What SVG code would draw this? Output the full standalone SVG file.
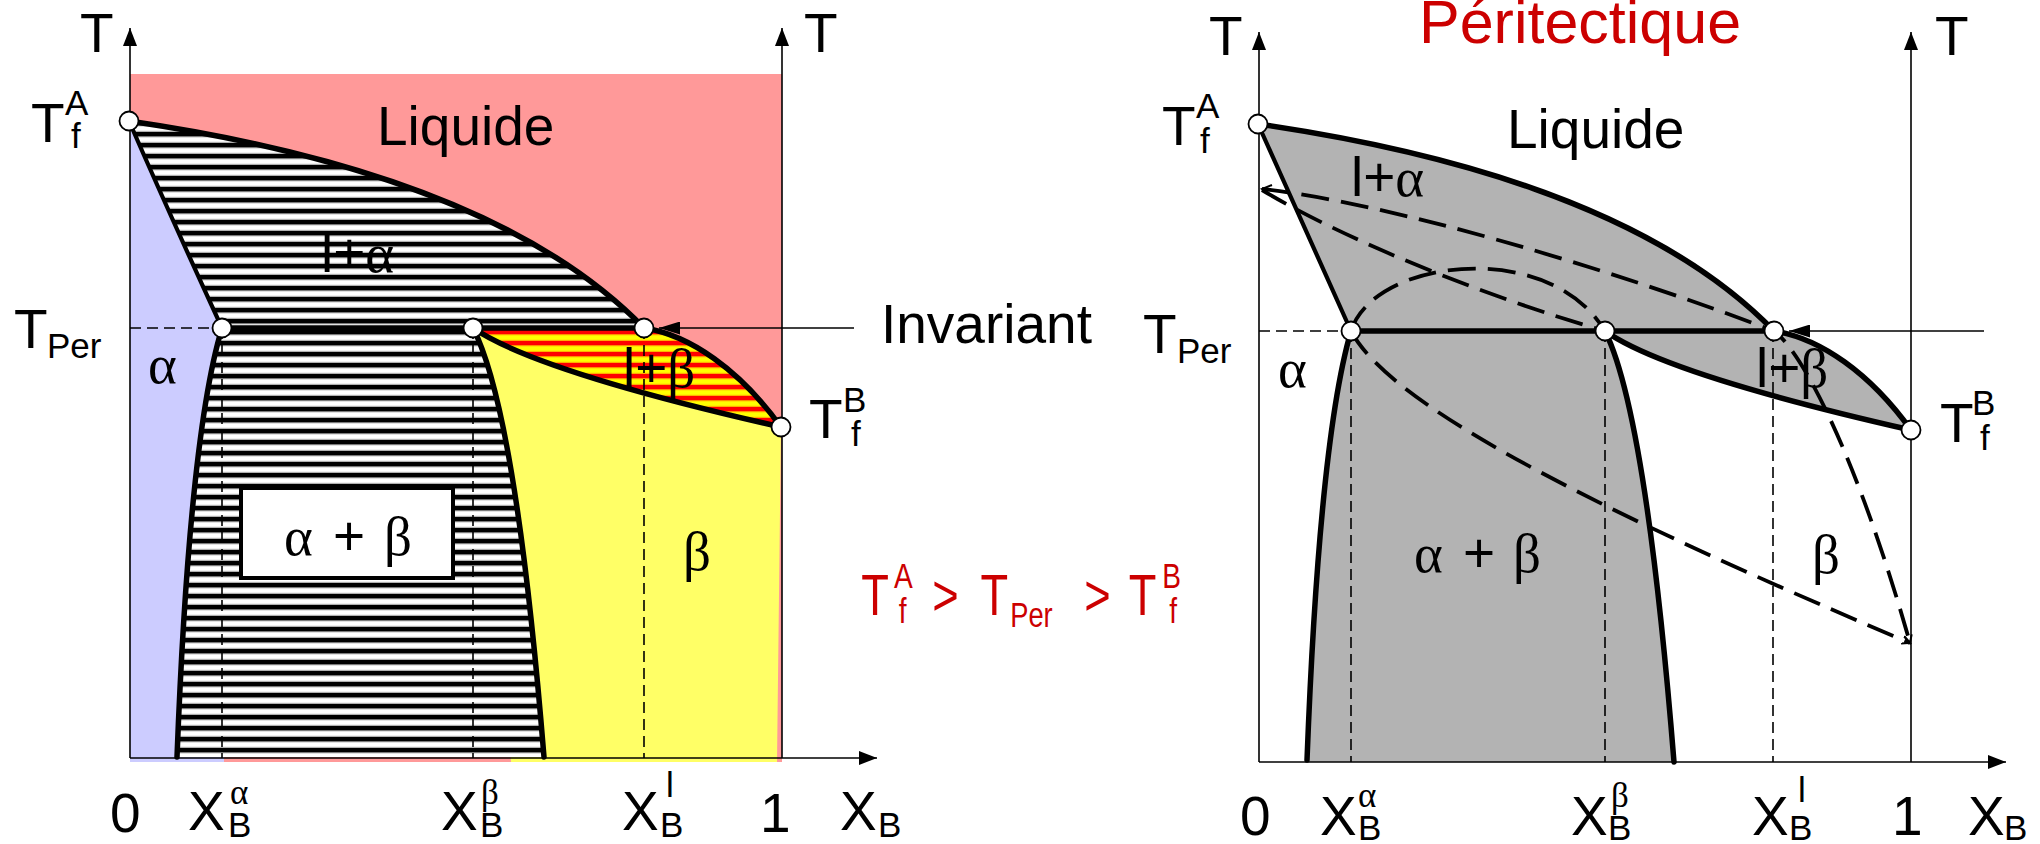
<svg xmlns="http://www.w3.org/2000/svg" width="2040" height="844" viewBox="0 0 2040 844">
<defs>
<style>
.t{font-family:"Liberation Sans",Arial,sans-serif;font-size:55px;fill:#000}
.s{font-family:"Liberation Sans",Arial,sans-serif;font-size:35px;fill:#000}
.g{font-family:"Liberation Serif","Times New Roman",serif;font-size:55px;fill:#000}
.gs{font-family:"Liberation Serif","Times New Roman",serif;font-size:35px;fill:#000}
.red{fill:#CC0000}
.axis{stroke:#000;stroke-width:1.6;fill:none}
.thick{stroke:#000;stroke-width:5.5;fill:none;stroke-linejoin:round;stroke-linecap:round}
.med{stroke:#000;stroke-width:4.2;fill:none;stroke-linecap:round}
.vd{stroke:#000;stroke-width:1.6;stroke-dasharray:11 6;fill:none}
.dc{stroke:#000;stroke-width:3.8;stroke-dasharray:28 12;fill:none}
.pt{fill:#fff;stroke:#000;stroke-width:1.8}
</style>
<pattern id="hatch" patternUnits="userSpaceOnUse" width="20" height="11">
<rect width="20" height="11" fill="#fff"/>
<rect y="0" width="20" height="4.2" fill="#000"/>
<rect y="4.2" width="20" height="1" fill="#666"/>
<rect y="9.8" width="20" height="1.2" fill="#b0b0b0"/>
</pattern>
<pattern id="ry" patternUnits="userSpaceOnUse" width="20" height="11">
<rect width="20" height="11" fill="#FFFF00"/>
<rect y="0" width="20" height="4.2" fill="#FF0000"/>
<rect y="4.2" width="20" height="1" fill="#FF8000"/>
<rect y="9.8" width="20" height="1.2" fill="#FFB000"/>
</pattern>
<marker id="ax" markerUnits="userSpaceOnUse" markerWidth="18" markerHeight="14" refX="18" refY="7" orient="auto">
<path d="M0,0 L18,7 L0,14 z" fill="#000"/>
</marker>
<marker id="inv" markerUnits="userSpaceOnUse" markerWidth="21" markerHeight="13" refX="21" refY="6.5" orient="auto">
<path d="M0,0 L21,6.5 L0,13 z" fill="#000"/>
</marker>
<marker id="tip" markerUnits="userSpaceOnUse" markerWidth="10" markerHeight="10" refX="8" refY="5" orient="auto">
<path d="M0,1 L8,5 L0,9" fill="none" stroke="#000" stroke-width="2"/>
</marker>
</defs>

<!-- LEFT DIAGRAM -->
<g id="left-regions">
<rect id="liquid-left" x="130" y="74" width="652" height="688" fill="#FF9999"/>
<path id="alpha-left" d="M130,121 L129,121 Q170,215 222,328 L224,762 L130,762 Z" fill="#CCCCFF"/>
<path id="beta-left" d="M473,328 C520,360 640,395 781,427 L777,762 L511,762 Z" fill="#FFFF66"/>
<path id="l-alpha-left" d="M129,121 C300,146 520,200 644,328 L222,328 Q170,215 129,121 Z" fill="url(#hatch)"/>
<path id="alpha-beta-left" d="M222,328 L473,328 C505,390 528,560 544,757 L177,757 C185,550 200,400 222,328 Z" fill="url(#hatch)"/>
<path id="l-beta-left" d="M473,328 L644,328 C690,335 740,370 781,427 C640,395 520,360 473,328 Z" fill="url(#ry)"/>
<rect id="box-left" x="241" y="488" width="212" height="90" fill="#fff" stroke="#000" stroke-width="4"/>
</g>

<g id="left-curves">
<path class="thick" d="M129,121 C300,146 520,200 644,328"/>
<path class="thick" d="M644,328 C690,335 740,370 781,427"/>
<path class="med" d="M129,121 Q170,215 222,328"/>
<path class="thick" d="M473,328 C520,360 640,395 781,427"/>
<path class="thick" d="M222,328 C200,400 185,550 177,757"/>
<path class="thick" d="M473,328 C505,390 528,560 544,757"/>
<path class="thick" d="M222,328 L644,328"/>
<path class="vd" d="M222,328 V758 M473,328 V758 M644,328 V758"/>
<path class="vd" d="M130,328 H222"/>
</g>

<g id="left-axes">
<path class="axis" d="M130,758 V28" marker-end="url(#ax)"/>
<path class="axis" d="M782,758 V28" marker-end="url(#ax)"/>
<path class="axis" d="M130,758 H877" marker-end="url(#ax)"/>
</g>

<g id="left-points">
<circle class="pt" cx="129" cy="121" r="9.5"/>
<circle class="pt" cx="222" cy="328" r="9.5"/>
<circle class="pt" cx="473" cy="328" r="9.5"/>
<circle class="pt" cx="644" cy="328" r="9.5"/>
<circle class="pt" cx="781" cy="427" r="9.5"/>
</g>

<g id="left-labels">
<text class="t" x="80" y="52">T</text>
<text class="t" x="804" y="52">T</text>
<text class="t" x="31" y="142">T</text><text class="s" x="65" y="115">A</text><text class="s" x="71" y="148">f</text>
<text class="t" x="14" y="348">T</text><text class="s" x="47" y="358">Per</text>
<text class="t" x="809" y="438">T</text><text class="s" x="843" y="412">B</text><text class="s" x="851" y="446">f</text>
<text class="t" x="377" y="145">Liquide</text>
<text class="t" x="321" y="272">l+<tspan class="g">α</tspan></text>
<text class="g" x="148" y="383">α</text>
<text class="t" x="623" y="387">l+<tspan class="g">β</tspan></text>
<text class="g" x="683" y="570">β</text>
<text class="g" x="284" y="555">α</text><text class="t" x="333" y="555">+</text><text class="g" x="384" y="555">β</text>
<text class="t" x="881" y="343">Invariant</text>
<text class="t" x="110" y="832">0</text>
<text class="t" x="188" y="830">X</text><text class="gs" x="230" y="804">α</text><text class="s" x="228" y="837">B</text>
<text class="t" x="441" y="830">X</text><text class="gs" x="481" y="804">β</text><text class="s" x="480" y="837">B</text>
<text class="t" x="622" y="830">X</text><text class="s" x="666" y="797">l</text><text class="s" x="660" y="837">B</text>
<text class="t" x="760" y="832">1</text>
<text class="t" x="840" y="830">X</text><text class="s" x="878" y="837">B</text>
</g>

<!-- MIDDLE RED RELATION -->
<g id="relation" transform="translate(862,0) scale(0.78,1)">
<text class="t red" x="-1" y="615" style="font-size:58px">T</text>
<text class="s red" x="41" y="588" style="font-size:36px">A</text>
<text class="s red" x="47" y="623" style="font-size:36px">f</text>
<text class="t red" x="90" y="615" style="font-size:58px">&gt;</text>
<text class="t red" x="152" y="615" style="font-size:58px">T</text>
<text class="s red" x="190" y="627" style="font-size:35px">Per</text>
<text class="t red" x="285" y="615" style="font-size:58px">&gt;</text>
<text class="t red" x="342" y="615" style="font-size:58px">T</text>
<text class="s red" x="385" y="588" style="font-size:36px">B</text>
<text class="s red" x="394" y="623" style="font-size:36px">f</text>
</g>

<!-- RIGHT DIAGRAM -->
<g id="right-regions">
<path id="two-phase-right" d="M1258,124 C1430,149 1650,203 1774,331 C1820,338 1870,373 1911,430 C1770,398 1650,363 1605,331 C1636,393 1658,563 1674,762 L1307,762 C1315,553 1330,403 1351,331 Q1300,218 1258,124 Z" fill="#B3B3B3"/>
</g>

<g id="right-curves">
<path class="thick" d="M1258,124 C1430,149 1650,203 1774,331"/>
<path class="thick" d="M1774,331 C1820,338 1870,373 1911,430"/>
<path class="med" d="M1258,124 Q1300,218 1351,331"/>
<path class="thick" d="M1605,331 C1650,363 1770,398 1911,430"/>
<path class="thick" d="M1351,331 C1330,403 1315,553 1307,760"/>
<path class="thick" d="M1605,331 C1636,393 1658,563 1674,762"/>
<path class="thick" d="M1351,331 L1774,331"/>
<path class="vd" d="M1351,331 V762 M1605,331 V762 M1773,331 V762"/>
<path class="vd" d="M1259,331 H1351"/>
<path class="dc" d="M1262,189 C1389,203 1609,268 1774,331 C1804,353 1859,463 1910,643" marker-end="url(#tip)"/>
<path class="dc" d="M1262,190 C1345,240 1489,298 1605,331"/>
<path class="dc" d="M1351,331 C1374,258 1549,238 1605,331"/>
<path class="dc" d="M1351,331 C1389,403 1579,503 1910,643" marker-end="url(#tip)"/>
<path d="M1272,185 L1262,189 L1270,195" fill="none" stroke="#000" stroke-width="2"/>
</g>

<g id="right-axes">
<path class="axis" d="M1259,762 V32" marker-end="url(#ax)"/>
<path class="axis" d="M1911,762 V32" marker-end="url(#ax)"/>
<path class="axis" d="M1259,762 H2006" marker-end="url(#ax)"/>
</g>

<g id="right-points">
<circle class="pt" cx="1258" cy="124" r="9.5"/>
<circle class="pt" cx="1351" cy="331" r="9.5"/>
<circle class="pt" cx="1605" cy="331" r="9.5"/>
<circle class="pt" cx="1774" cy="331" r="9.5"/>
<circle class="pt" cx="1911" cy="430" r="9.5"/>
</g>

<g id="right-labels">
<text class="t red" x="1419" y="43" style="font-size:61px">Péritectique</text>
<text class="t" x="1209" y="55">T</text>
<text class="t" x="1935" y="55">T</text>
<text class="t" x="1162" y="145">T</text><text class="s" x="1196" y="118">A</text><text class="s" x="1200" y="153">f</text>
<text class="t" x="1143" y="353">T</text><text class="s" x="1177" y="363">Per</text>
<text class="t" x="1940" y="442">T</text><text class="s" x="1972" y="415">B</text><text class="s" x="1980" y="450">f</text>
<text class="t" x="1507" y="148">Liquide</text>
<text class="t" x="1351" y="196">l+<tspan class="g">α</tspan></text>
<text class="g" x="1278" y="387">α</text>
<text class="t" x="1756" y="387">l+<tspan class="g">β</tspan></text>
<text class="g" x="1414" y="572">α</text><text class="t" x="1463" y="572">+</text><text class="g" x="1513" y="572">β</text>
<text class="g" x="1812" y="573">β</text>
<text class="t" x="1240" y="835">0</text>
<text class="t" x="1320" y="835">X</text><text class="gs" x="1358" y="807">α</text><text class="s" x="1358" y="840">B</text>
<text class="t" x="1571" y="835">X</text><text class="gs" x="1611" y="807">β</text><text class="s" x="1608" y="840">B</text>
<text class="t" x="1752" y="835">X</text><text class="s" x="1798" y="802">l</text><text class="s" x="1789" y="840">B</text>
<text class="t" x="1892" y="835">1</text>
<text class="t" x="1968" y="835">X</text><text class="s" x="2004" y="840">B</text>
</g>

<g id="connectors">
<path class="axis" d="M854,328 H659" marker-end="url(#inv)"/>
<path class="axis" d="M1984,331 H1789" marker-end="url(#inv)"/>
</g>
</svg>
